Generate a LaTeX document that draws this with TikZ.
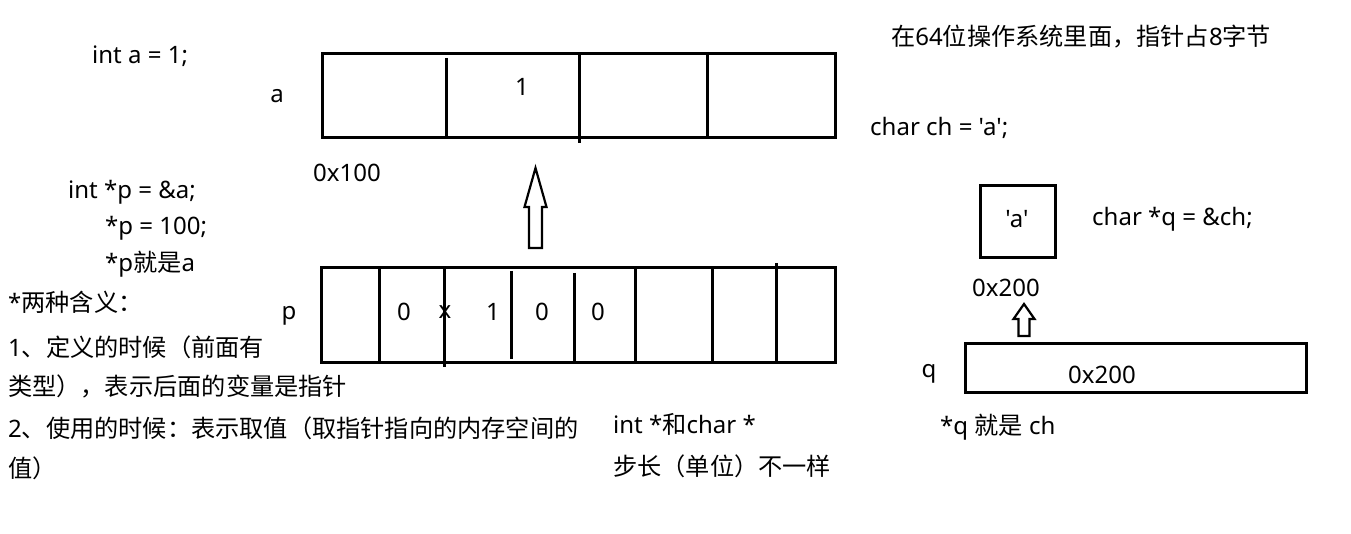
\documentclass[tikz,border=0pt]{standalone}
\usepackage{fontspec}
\setmainfont{Noto Sans}[Ligatures=TeXOff]
\newfontfamily\cjkf{Noto Sans CJK SC}[Ligatures=TeXOff]
\newcommand{\cj}[1]{{\cjkf\fontsize{24.2}{28}\selectfont #1}}
\begin{document}
\begin{tikzpicture}[x=1pt,y=-1pt,
  txt/.style={anchor=west,inner sep=0pt,font=\fontsize{24}{28}\selectfont},
  ctxt/.style={anchor=center,inner sep=0pt,font=\fontsize{24}{28}\selectfont},
  cell/.style={line width=3pt},
  hollow/.style={line width=2.2pt,line join=miter}]
\useasboundingbox[fill=white] (0,0) rectangle (1351,534);
% left texts
\node[txt] (t1) at (92,56) {int a = 1;};
\node[ctxt] (la) at (277,96) {a};
\node[txt] (t2) at (68,192) {int *p = \&a;};
\node[txt] (t3) at (105,228) {*p = 100;};
\node[txt] (t4) at (105,264) {*p\cj{就是}a};
\node[txt] (t5) at (8,302) {*\cj{两种含义：}};
\node[txt] (t6) at (8,347) {1\cj{、定义的时候（前面有}};
\node[txt] (t7) at (8,386) {\cj{类型），表示后面的变量是指针}};
\node[txt] (t8) at (8,428) {2\cj{、使用的时候：表示取值（取指针指向的内存空间的}};
\node[txt] (t9) at (8,468) {\cj{值）}};
% top box a
\draw[cell] (322,54) rectangle (835,138);
\draw[cell] (446,58) -- (446,138);
\draw[cell] (579,54) -- (579,143);
\draw[cell] (707,52) -- (707,138);
\node[ctxt] (one) at (522,87) {1};
\node[txt] (addr1) at (313,173) {0x100};
% hollow arrow
\draw[hollow] (529,248) -- (529,207) -- (524.5,207) -- (535.5,168) -- (546.5,207) -- (542,207) -- (542,248) -- cycle;
% bottom box p
\node[ctxt] (lp) at (289,316) {p};
\draw[cell] (321,268) rectangle (835,362);
\draw[cell] (379,268) -- (379,362);
\draw[cell] (444,268) -- (444,367);
\draw[cell] (511,271) -- (511,359);
\draw[cell] (574,273) -- (574,362);
\draw[cell] (635,268) -- (635,362);
\draw[cell] (712,268) -- (712,362);
\draw[cell] (776,263) -- (776,362);
\node[ctxt] (b1) at (404,312) {0};
\node[ctxt] (b2) at (445,312) {x};
\node[ctxt] (b3) at (493,312) {1};
\node[ctxt] (b4) at (542,312) {0};
\node[ctxt] (b5) at (598,312) {0};
\node[txt] (m1) at (613,424) {int *\cj{和}char *};
\node[txt] (m2) at (613,466) {\cj{步长（单位）不一样}};
% right side
\node[txt] (r1) at (891,37) {\cj{在}64\cj{位操作系统里面，指针占}8\cj{字节}};
\node[txt] (r2) at (870,128) {char ch = 'a';};
\draw[cell] (980,186) rectangle (1055,258);
\node[ctxt] (ca) at (1017,219) {'a'};
\node[txt] (r3) at (1092,219) {char *q = \&ch;};
\node[txt] (addr2) at (972,288) {0x200};
\draw[hollow] (1018.5,336) -- (1018.5,319) -- (1013.5,319) -- (1024,304) -- (1034.5,319) -- (1029.5,319) -- (1029.5,336) -- cycle;
\node[ctxt] (lq) at (929,374) {q};
\draw[cell] (965,343) rectangle (1306,392);
\node[txt] (qv) at (1068,375) {0x200};
\node[txt] (r4) at (940,427) {*q \cj{就是} ch};
\end{tikzpicture}
\end{document}
